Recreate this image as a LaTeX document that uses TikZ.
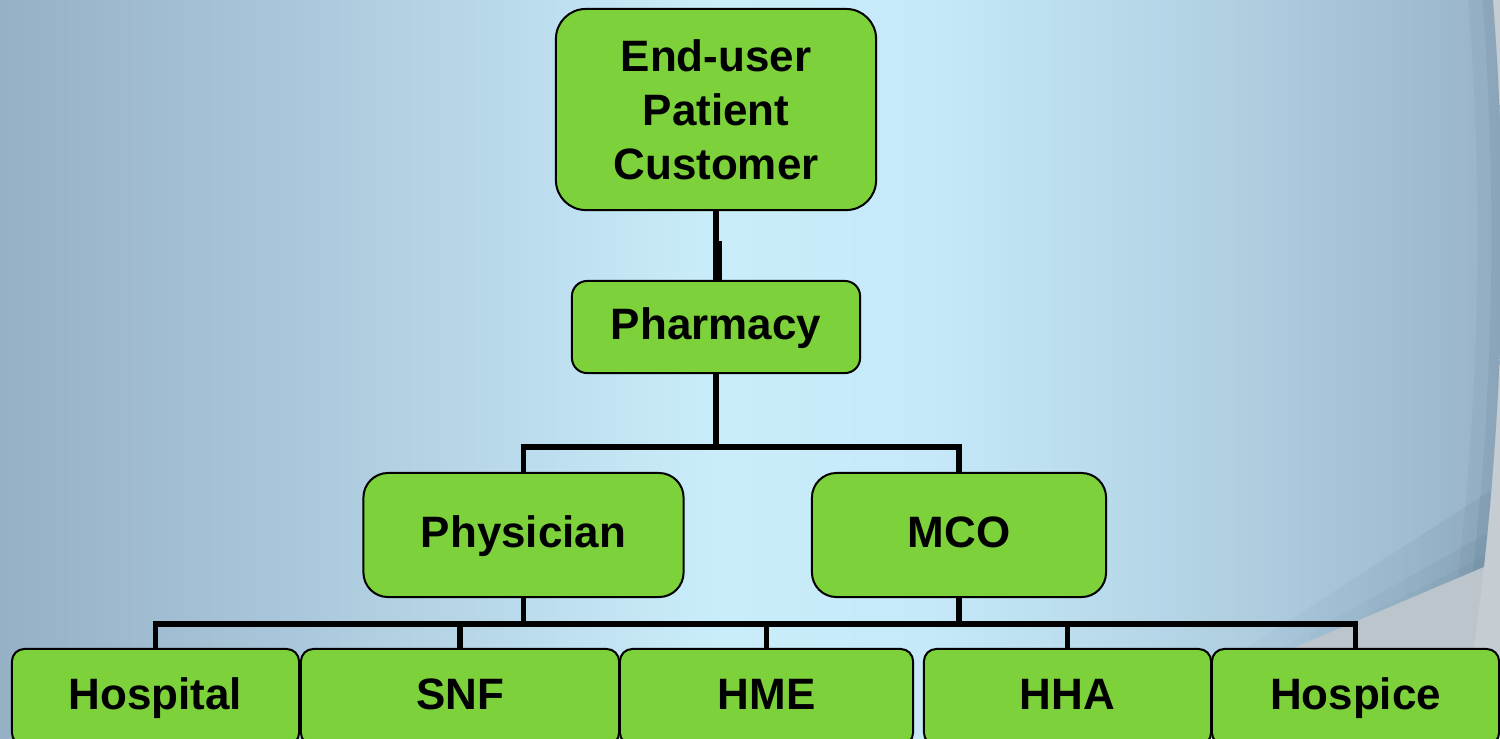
\documentclass[tikz,border=0pt]{standalone}
\usepackage{fontspec}
\setmainfont{Liberation Sans}
\usetikzlibrary{fadings}
\definecolor{boxgreen}{RGB}{125,209,59}
\definecolor{bgA}{RGB}{150,176,197}
\definecolor{bgB}{RGB}{170,200,219}
\definecolor{bgC}{RGB}{202,237,251}
\definecolor{bgD}{RGB}{197,233,249}
\definecolor{bgE}{RGB}{176,208,226}
\definecolor{bgF}{RGB}{152,179,200}
\definecolor{wedgegray}{RGB}{188,197,203}
\definecolor{outergray}{RGB}{198,205,210}
\definecolor{shadowblue}{RGB}{40,70,95}
\pgfdeclarehorizontalshading{bgh}{100bp}{color(0bp)=(bgA); color(25bp)=(bgA); color(35bp)=(bgB); color(49bp)=(bgC); color(56bp)=(bgD); color(66bp)=(bgE); color(75bp)=(bgF); color(100bp)=(bgF)}
\tikzset{
  box/.style={draw=black, line width=0.57pt, fill=boxgreen, align=center, inner sep=0pt,
    font=\fontsize{12.5}{15.3}\selectfont\bfseries},
  onebox/.style={box, text height=0.716em, text depth=0pt},
  conn/.style={draw=black, line width=1.56pt},
  lowbox/.style={onebox, rounded corners=3.5pt, minimum height=0.96cm}
}
\begin{document}
\begin{tikzpicture}[x=0.01cm, y=-0.01cm]
\useasboundingbox (0,0) rectangle (1500,738);
% background
\begin{scope}
  \clip (0,0) rectangle (1500,738);
  \fill[outergray] (0,0) rectangle (1500,738);
  \begin{scope}
    \clip (-1498,235) circle [radius=3000];
    \fill[wedgegray] (0,0) rectangle (1500,738);
    \clip (-10,-10) -- (1610,-10) -- (1600,517.5) -- (900,815) -- (-10,815) -- cycle;
    \shade[shading=bgh] (0,0) rectangle (1500,738);
    % shadow along the arc
    \draw[shadowblue, opacity=0.05, line width=14pt] (-1498,235) circle [radius=3000];
    \draw[shadowblue, opacity=0.07, line width=6pt] (-1498,235) circle [radius=3000];
    % soft shadow above the diagonal, darker toward the right
    \fill[shadowblue, opacity=0.10, path fading=west] (1150,710) -- (1600,517.5) -- (1600,420) -- cycle;
    \fill[shadowblue, opacity=0.10, path fading=west] (1250,666) -- (1600,517.5) -- (1600,470) -- cycle;
    \fill[shadowblue, opacity=0.10, path fading=west] (1330,632) -- (1600,517.5) -- (1600,500) -- cycle;
  \end{scope}
\end{scope}
% nodes
\node[box, rounded corners=8.5pt, minimum width=3.2cm, minimum height=2.01cm] (top) at (716,109.5) {End-user\\Patient\\Customer};
\node[onebox, rounded corners=4.3pt, minimum width=2.88cm, minimum height=0.92cm] (pharm) at (716,327) {Pharmacy};
\node[onebox, rounded corners=7pt, minimum width=3.2cm, minimum height=1.24cm] (phys) at (523.5,535) {Physician};
\node[onebox, rounded corners=7pt, minimum width=2.94cm, minimum height=1.24cm] (mco) at (959,535) {MCO};
\node[lowbox, minimum width=2.87cm] (hosp) at (155.5,697) {Hospital};
\node[lowbox, minimum width=3.18cm] (snf) at (460,697) {SNF};
\node[lowbox, minimum width=2.93cm] (hme) at (766.5,697) {HME};
\node[lowbox, minimum width=2.87cm] (hha) at (1067.5,697) {HHA};
\node[lowbox, minimum width=2.87cm] (hospc) at (1355.5,697) {Hospice};
% connectors
\draw[conn, line width=1.8pt] (top.south) -- (pharm.north);
\draw[line width=0.95pt] ([xshift=0.046cm]pharm.north) -- ++(0,-39);
\coordinate (j1) at (716,448);
\draw[conn] (pharm.south) -- (j1);
\draw[conn] (phys.north) -- ++(0,-25) -| (mco.north);
\draw[conn] (phys.south) -- ++(0,28);
\draw[conn] (mco.south) -- ++(0,28);
\draw[conn] (hosp.north) -- ++(0,-24) -| (hospc.north);
\draw[conn] (snf.north) -- ++(0,-24);
\draw[conn] (hme.north) -- ++(0,-24);
\draw[conn] (hha.north) -- ++(0,-24);
\end{tikzpicture}
\end{document}
